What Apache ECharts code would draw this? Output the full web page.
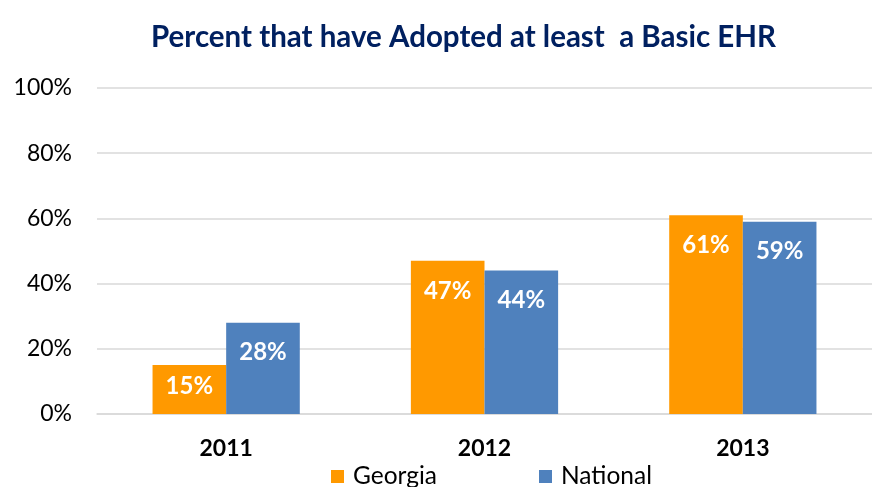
<!DOCTYPE html>
<html><head><meta charset="utf-8">
<script src="https://cdn.jsdelivr.net/npm/echarts@6/dist/echarts.min.js"></script>
<style>html,body{margin:0;padding:0;background:#fff}#c{width:872px;height:487px}</style>
</head><body><div id="c"></div>
<script>
var categories = ['2011', '2012', '2013'];
var georgia = [15, 47, 61];
var national = [28, 44, 59];
var yTicks = [0, 20, 40, 60, 80, 100];

var chart = echarts.init(document.getElementById('c'));
var labelCfg = {
  show: true, position: 'insideTop', distance: 18,
  color: '#fff', fontFamily: 'Lato', fontWeight: 'bold', fontSize: 24,
  formatter: function (p) { return p.value + '%'; }
};
// short bars get their label nearer the middle, as in the original
function withLabels(arr) {
  return arr.map(function (v) {
    return v < 20 ? { value: v, label: { distance: 9 } } : v;
  });
}
chart.setOption({
  animation: false,
  title: {
    text: 'Percent that have Adopted at least  a Basic EHR',
    left: 146, top: 17,
    textStyle: { fontFamily: 'Lato', fontWeight: 'bold', fontSize: 29.5, color: '#002060' }
  },
  legend: {
    bottom: -7, left: 326, itemGap: 102, itemWidth: 13, itemHeight: 13,
    icon: 'rect',
    textStyle: { fontFamily: 'Lato', fontSize: 24.5, color: '#000', padding: [0, 0, 0, 4] }
  },
  grid: { left: 97, top: 88, width: 778, height: 326 },
  xAxis: {
    type: 'category', data: categories,
    axisLine: { lineStyle: { color: '#D9D9D9', width: 1.5 } },
    axisTick: { show: false },
    axisLabel: { fontFamily: 'Lato', fontWeight: 'bold', fontSize: 23, color: '#000', margin: 23 }
  },
  yAxis: {
    type: 'value', min: yTicks[0], max: yTicks[yTicks.length - 1], interval: 20,
    axisLine: { show: false }, axisTick: { show: false },
    splitLine: { lineStyle: { color: '#D9D9D9', width: 1.5 } },
    axisLabel: { fontFamily: 'Lato', fontSize: 23, color: '#000', margin: 25,
      formatter: function (v) { return v + '%'; } }
  },
  series: [
    { name: 'Georgia', type: 'bar', data: withLabels(georgia), barGap: '0%', barCategoryGap: '43%',
      itemStyle: { color: '#FF9900' }, label: labelCfg },
    { name: 'National', type: 'bar', data: withLabels(national),
      itemStyle: { color: '#4F81BD' }, label: labelCfg }
  ]
});
</script></body></html>
